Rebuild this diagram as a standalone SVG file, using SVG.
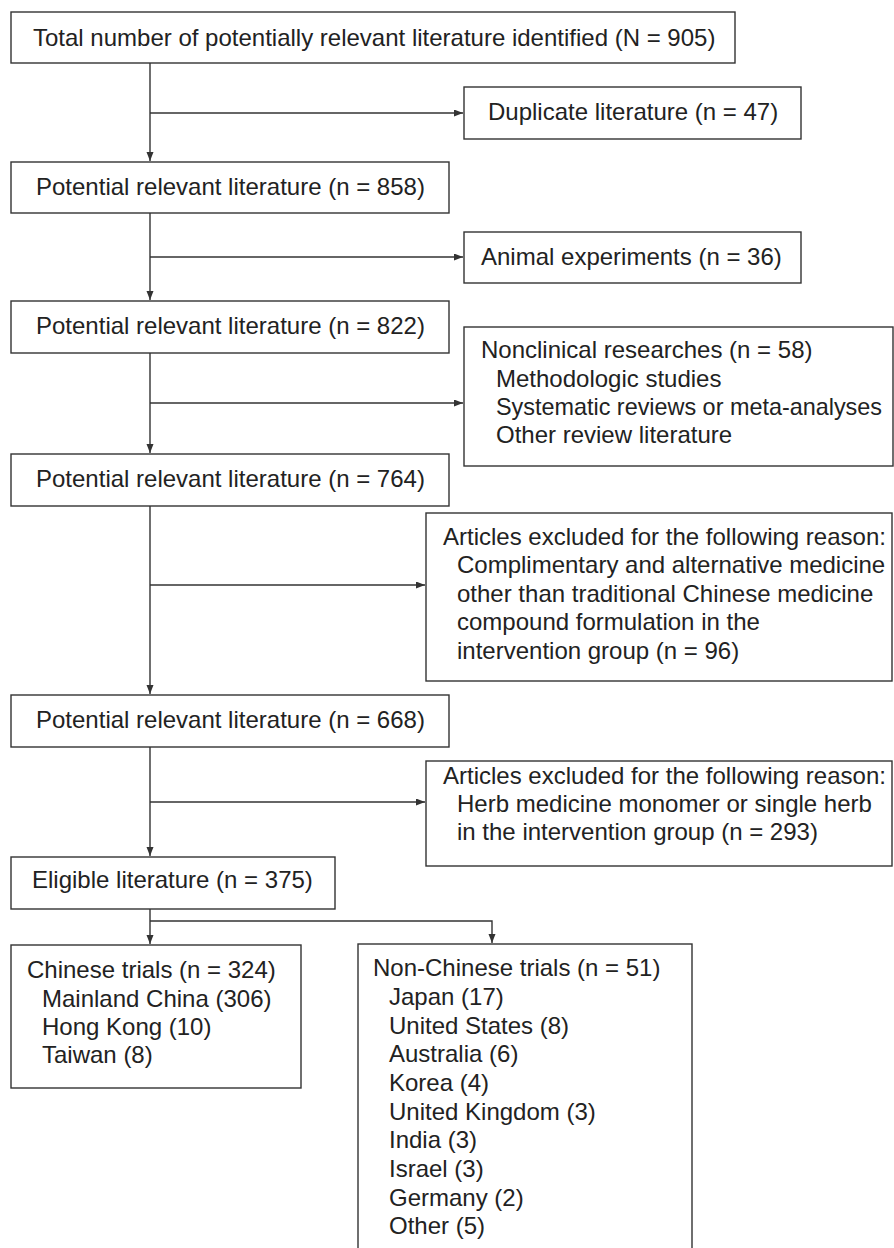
<svg xmlns="http://www.w3.org/2000/svg" width="894" height="1248" viewBox="0 0 894 1248">
<style>
.box{fill:#fff;stroke:#333;stroke-width:1.4}
.t{font-family:"Liberation Sans",Arial,sans-serif;font-size:24px;fill:#222}
.c{fill:none;stroke:#333;stroke-width:1.4}
</style>
<defs>
<marker id="ah" markerUnits="userSpaceOnUse" markerWidth="10" markerHeight="8" refX="9" refY="3.5" orient="auto">
<path d="M0,0 L9,3.5 L0,7 z" fill="#333"/>
</marker>
</defs>
<rect width="894" height="1248" fill="#fff"/>
<g id="connectors">
<line class="c" x1="150" y1="63" x2="150" y2="161" marker-end="url(#ah)"/>
<line class="c" x1="150" y1="113" x2="463" y2="113" marker-end="url(#ah)"/>
<line class="c" x1="150" y1="213" x2="150" y2="300" marker-end="url(#ah)"/>
<line class="c" x1="150" y1="257" x2="463" y2="257" marker-end="url(#ah)"/>
<line class="c" x1="150" y1="353" x2="150" y2="453" marker-end="url(#ah)"/>
<line class="c" x1="150" y1="403" x2="463" y2="403" marker-end="url(#ah)"/>
<line class="c" x1="150" y1="506" x2="150" y2="694" marker-end="url(#ah)"/>
<line class="c" x1="150" y1="585" x2="425" y2="585" marker-end="url(#ah)"/>
<line class="c" x1="150" y1="747" x2="150" y2="856" marker-end="url(#ah)"/>
<line class="c" x1="150" y1="802" x2="425" y2="802" marker-end="url(#ah)"/>
<line class="c" x1="150" y1="909" x2="150" y2="944" marker-end="url(#ah)"/>
<polyline class="c" points="150,921 492,921 492,943" marker-end="url(#ah)"/>
</g>
<g id="n1"><rect class="box" x="11" y="12" width="724" height="51"/><text class="t" x="33" y="46">Total number of potentially relevant literature identified (N = 905)</text></g>
<g id="n2"><rect class="box" x="464" y="87" width="337" height="52"/><text class="t" x="488" y="120">Duplicate literature (n = 47)</text></g>
<g id="n3"><rect class="box" x="11" y="162" width="438" height="51"/><text class="t" x="36" y="195">Potential relevant literature (n = 858)</text></g>
<g id="n4"><rect class="box" x="464" y="232" width="337" height="51"/><text class="t" x="481" y="265">Animal experiments (n = 36)</text></g>
<g id="n5"><rect class="box" x="11" y="301" width="438" height="52"/><text class="t" x="36" y="334">Potential relevant literature (n = 822)</text></g>
<g id="n6"><rect class="box" x="464" y="327" width="429" height="139"/>
<text class="t" x="481" y="358">Nonclinical researches (n = 58)</text>
<text class="t" x="496" y="387">Methodologic studies</text>
<text class="t" x="496" y="415" textLength="386" lengthAdjust="spacingAndGlyphs">Systematic reviews or meta-analyses</text>
<text class="t" x="496" y="443">Other review literature</text></g>
<g id="n7"><rect class="box" x="11" y="454" width="438" height="52"/><text class="t" x="36" y="487">Potential relevant literature (n = 764)</text></g>
<g id="n8"><rect class="box" x="426" y="513" width="466" height="168"/>
<text class="t" x="443" y="545">Articles excluded for the following reason:</text>
<text class="t" x="457" y="573">Complimentary and alternative medicine</text>
<text class="t" x="457" y="602">other than traditional Chinese medicine</text>
<text class="t" x="457" y="630">compound formulation in the</text>
<text class="t" x="457" y="659">intervention group (n = 96)</text></g>
<g id="n9"><rect class="box" x="11" y="695" width="438" height="52"/><text class="t" x="36" y="728">Potential relevant literature (n = 668)</text></g>
<g id="n10"><rect class="box" x="426" y="761" width="466" height="105"/>
<text class="t" x="443" y="784">Articles excluded for the following reason:</text>
<text class="t" x="457" y="812">Herb medicine monomer or single herb</text>
<text class="t" x="457" y="840">in the intervention group (n = 293)</text></g>
<g id="n11"><rect class="box" x="11" y="857" width="324" height="52"/><text class="t" x="32" y="888">Eligible literature (n = 375)</text></g>
<g id="n12"><rect class="box" x="11" y="945" width="290" height="143"/>
<text class="t" x="27" y="978">Chinese trials (n = 324)</text>
<text class="t" x="42" y="1007">Mainland China (306)</text>
<text class="t" x="42" y="1035">Hong Kong (10)</text>
<text class="t" x="42" y="1063">Taiwan (8)</text></g>
<g id="n13"><rect class="box" x="358" y="944" width="334" height="320"/>
<text class="t" x="373" y="976">Non-Chinese trials (n = 51)</text>
<text class="t" x="389" y="1005">Japan (17)</text>
<text class="t" x="389" y="1034">United States (8)</text>
<text class="t" x="389" y="1062">Australia (6)</text>
<text class="t" x="389" y="1091">Korea (4)</text>
<text class="t" x="389" y="1120">United Kingdom (3)</text>
<text class="t" x="389" y="1148">India (3)</text>
<text class="t" x="389" y="1177">Israel (3)</text>
<text class="t" x="389" y="1206">Germany (2)</text>
<text class="t" x="389" y="1234">Other (5)</text></g>
</svg>
